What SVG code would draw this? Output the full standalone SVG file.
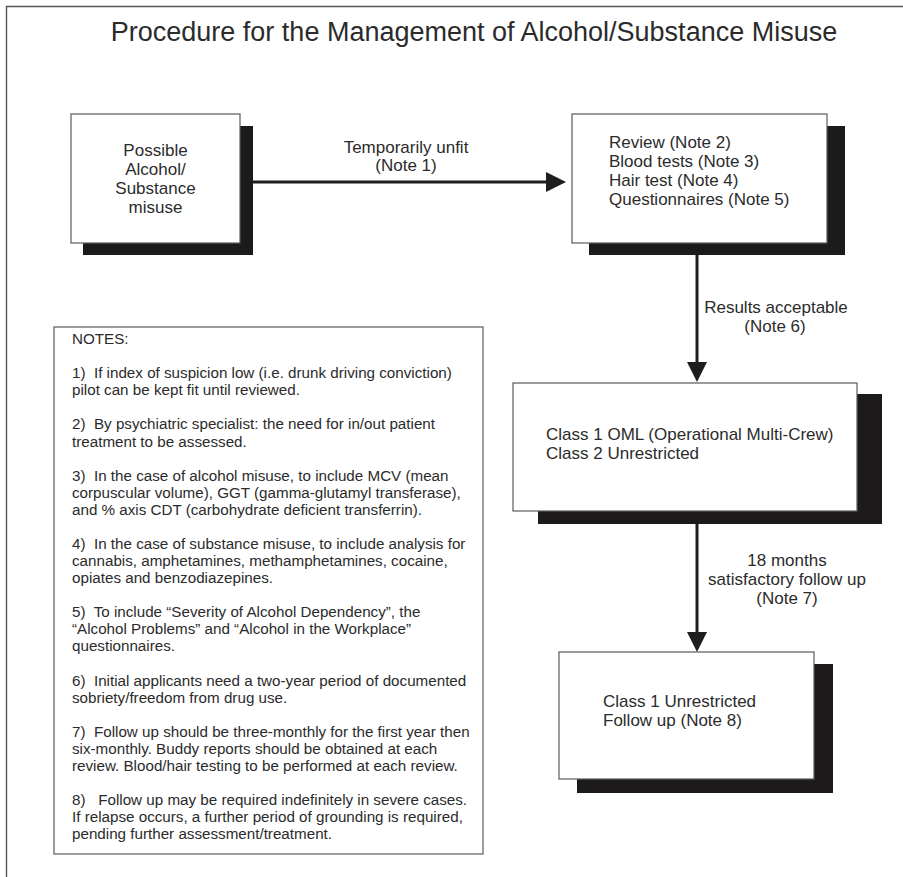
<svg xmlns="http://www.w3.org/2000/svg" width="903" height="877" viewBox="0 0 903 877">
<style>
text{font-family:"Liberation Sans",Arial,sans-serif;fill:#2b2b2b}
.t{font-size:17px}
.n{font-size:15.2px}
.c{text-anchor:middle}
.box{fill:#fff;stroke:#5a5a5a;stroke-width:1.2}
.sh{fill:#1c1a1a}
.edge{stroke:#1e1e1e;stroke-width:3;fill:none}
</style>
<defs>
<marker id="ah" markerUnits="userSpaceOnUse" markerWidth="20" markerHeight="20" refX="2" refY="10" orient="auto">
<path d="M0,0 L20,10 L0,20 Z" fill="#1e1e1e"/>
</marker>
</defs>
<rect width="903" height="877" fill="#fff"/>
<path d="M6.5,877 V6.5 H903" fill="none" stroke="#555" stroke-width="1.4"/>
<text x="474" y="41" class="c" style="font-size:27px">Procedure for the Management of Alcohol/Substance Misuse</text>

<g id="connectors">
<line class="edge" x1="253" y1="182" x2="548" y2="182" marker-end="url(#ah)"/>
<line class="edge" x1="697" y1="255" x2="697" y2="364" marker-end="url(#ah)"/>
<line class="edge" x1="697" y1="524" x2="697" y2="634" marker-end="url(#ah)"/>
<text class="t c" x="406" y="153">Temporarily unfit</text>
<text class="t c" x="406" y="171">(Note 1)</text>
<text class="t c" x="776" y="313">Results acceptable</text>
<text class="t c" x="775" y="332">(Note 6)</text>
<text class="t c" x="787" y="566">18 months</text>
<text class="t c" x="787" y="585">satisfactory follow up</text>
<text class="t c" x="787" y="604">(Note 7)</text>
</g>

<g id="possible">
<rect class="sh" x="83" y="126" width="170" height="129"/>
<rect class="box" x="71" y="114" width="169" height="129"/>
<text class="t c" x="155.5" y="156">Possible</text>
<text class="t c" x="155.5" y="175">Alcohol/</text>
<text class="t c" x="155.5" y="194">Substance</text>
<text class="t c" x="155.5" y="213">misuse</text>
</g>

<g id="review">
<rect class="sh" x="589" y="126" width="256" height="129"/>
<rect class="box" x="572" y="114" width="255" height="129"/>
<text class="t" x="609" y="148">Review (Note 2)</text>
<text class="t" x="609" y="167">Blood tests (Note 3)</text>
<text class="t" x="609" y="186">Hair test (Note 4)</text>
<text class="t" x="609" y="205">Questionnaires (Note 5)</text>
</g>

<g id="class1oml">
<rect class="sh" x="538" y="394" width="344" height="130"/>
<rect class="box" x="513" y="383" width="344" height="128"/>
<text class="t" x="546" y="440">Class 1 OML (Operational Multi-Crew)</text>
<text class="t" x="546" y="459">Class 2 Unrestricted</text>
</g>

<g id="class1unrestricted">
<rect class="sh" x="577" y="664" width="256" height="129"/>
<rect class="box" x="559" y="652" width="255" height="127"/>
<text class="t" x="603" y="707">Class 1 Unrestricted</text>
<text class="t" x="603" y="726">Follow up (Note 8)</text>
</g>

<g id="notes">
<rect class="box" x="54" y="327" width="429" height="527"/>
<text class="n" x="72" y="344">NOTES:</text>
<text class="n" x="72" y="378.1" xml:space="preserve">1)  If index of suspicion low (i.e. drunk driving conviction)</text>
<text class="n" x="72" y="395.2">pilot can be kept fit until reviewed.</text>
<text class="n" x="72" y="429.4" xml:space="preserve">2)  By psychiatric specialist: the need for in/out patient</text>
<text class="n" x="72" y="446.5">treatment to be assessed.</text>
<text class="n" x="72" y="480.6" xml:space="preserve">3)  In the case of alcohol misuse, to include MCV (mean</text>
<text class="n" x="72" y="497.7">corpuscular volume), GGT (gamma-glutamyl transferase),</text>
<text class="n" x="72" y="514.8">and % axis CDT (carbohydrate deficient transferrin).</text>
<text class="n" x="72" y="548.9" xml:space="preserve">4)  In the case of substance misuse, to include analysis for</text>
<text class="n" x="72" y="566.0">cannabis, amphetamines, methamphetamines, cocaine,</text>
<text class="n" x="72" y="583.1">opiates and benzodiazepines.</text>
<text class="n" x="72" y="617.2" xml:space="preserve">5)  To include “Severity of Alcohol Dependency”, the</text>
<text class="n" x="72" y="634.3">“Alcohol Problems” and “Alcohol in the Workplace”</text>
<text class="n" x="72" y="651.4">questionnaires.</text>
<text class="n" x="72" y="685.6" xml:space="preserve">6)  Initial applicants need a two-year period of documented</text>
<text class="n" x="72" y="702.7">sobriety/freedom from drug use.</text>
<text class="n" x="72" y="736.8" xml:space="preserve">7)  Follow up should be three-monthly for the first year then</text>
<text class="n" x="72" y="753.9">six-monthly. Buddy reports should be obtained at each</text>
<text class="n" x="72" y="771.0">review. Blood/hair testing to be performed at each review.</text>
<text class="n" x="72" y="805.1" xml:space="preserve">8)   Follow up may be required indefinitely in severe cases.</text>
<text class="n" x="72" y="822.2">If relapse occurs, a further period of grounding is required,</text>
<text class="n" x="72" y="839.3">pending further assessment/treatment.</text>
</g>
</svg>
